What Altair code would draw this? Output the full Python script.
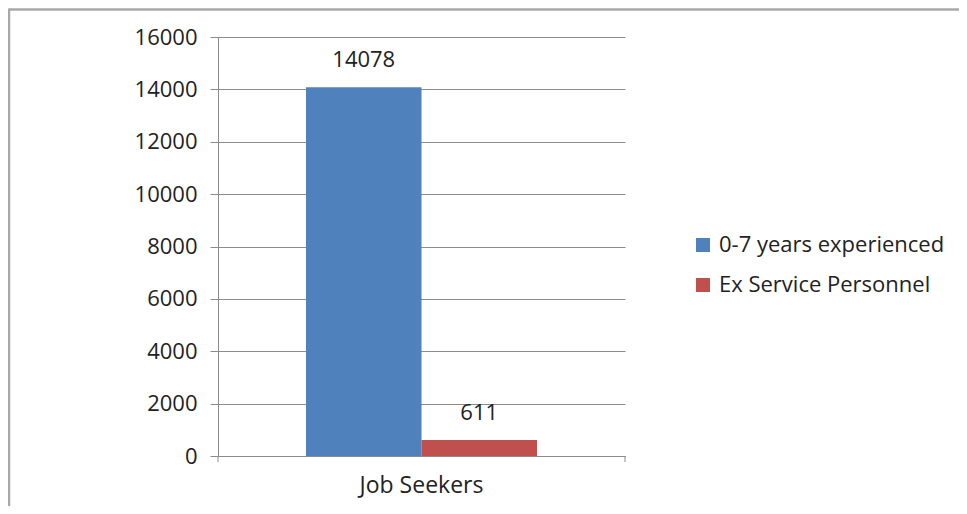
import altair as alt
import pandas as pd

categories = ["Job Seekers"]
series = ["0-7 years experienced", "Ex Service Personnel"]
values = [14078, 611]
colors = ["#4F81BD", "#C0504D"]
y_ticks = [0, 2000, 4000, 6000, 8000, 10000, 12000, 14000, 16000]

df = pd.DataFrame({
    "category": [categories[0]] * len(series),
    "series": series,
    "value": values,
})

W, H = 407, 419
PAD = {"left": 210, "top": 29, "right": 334, "bottom": 50}
FONT = "Open Sans"
TXT = "#222222"
GRID = "#8c8c8c"

x_enc = alt.X(
    "category:N",
    scale=alt.Scale(paddingInner=0, paddingOuter=0.381),
    axis=alt.Axis(title=None, labelAngle=0, ticks=False, tickSize=0,
                  domainColor=GRID, labelFontSize=23, labelFont=FONT,
                  labelColor=TXT, labelPadding=18),
)
xoff = alt.XOffset("series:N", sort=series,
                   scale=alt.Scale(paddingInner=0, paddingOuter=0))
y_enc = alt.Y(
    "value:Q",
    scale=alt.Scale(domain=[0, 16000], nice=False),
    axis=alt.Axis(values=y_ticks, title=None, format="d", grid=True,
                  gridColor=GRID, domainColor=GRID, tickColor=GRID,
                  tickSize=8, labelPadding=13, labelFontSize=22,
                  labelFont=FONT, labelColor=TXT),
)

base = alt.Chart(df)
bars = base.mark_bar(strokeWidth=0).encode(
    x=x_enc, xOffset=xoff, y=y_enc,
    color=alt.Color(
        "series:N",
        scale=alt.Scale(domain=series, range=colors),
        legend=alt.Legend(title=None, orient="none", legendX=474, legendY=197,
                          symbolType="square", symbolSize=196,
                          symbolStrokeWidth=0, labelFontSize=22,
                          labelFont=FONT, labelColor=TXT, rowPadding=18,
                          labelOffset=5, padding=0, labelLimit=0),
    ),
)
labels = base.mark_text(baseline="alphabetic", dy=-20, fontSize=22,
                        font=FONT, color=TXT).encode(
    x=x_enc, xOffset=xoff, y=y_enc, text=alt.Text("value:Q", format="d"),
)

one = pd.DataFrame({"a": [0]})
tick_left = alt.Chart(one).mark_rule(color=GRID, strokeWidth=1).encode(
    x=alt.value(0), y=alt.value(H), y2=alt.value(H + 6),
)
tick_right = alt.Chart(one).mark_rule(color=GRID, strokeWidth=1).encode(
    x=alt.value(W), y=alt.value(H), y2=alt.value(H + 6),
)
border_top = alt.Chart(one).mark_rule(color="#a8a8a8", strokeWidth=2.5).encode(
    x=alt.value(-209), x2=alt.value(751), y=alt.value(-27.5),
)
border_left = alt.Chart(one).mark_rule(color="#a8a8a8", strokeWidth=2.5).encode(
    x=alt.value(-209), y=alt.value(-28.5), y2=alt.value(480),
)

chart = alt.layer(bars, labels, tick_left, tick_right, border_top, border_left).properties(
    width=W, height=H,
    autosize=alt.AutoSizeParams(type="none"),
    padding=PAD,
    background="white",
).configure_view(stroke=None)

chart.save("out.html", embed_options={"renderer": "svg", "actions": False})
